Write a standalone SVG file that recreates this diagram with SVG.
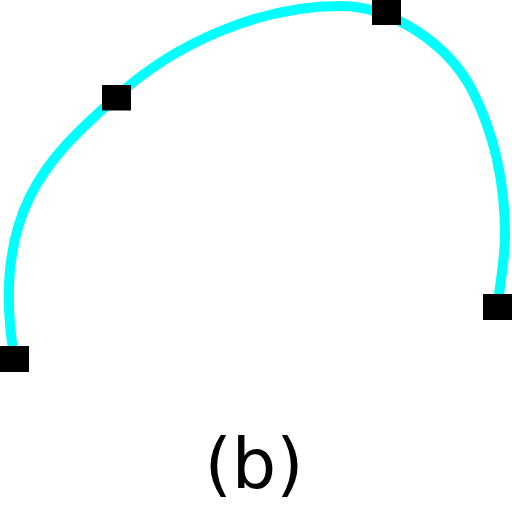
<svg xmlns="http://www.w3.org/2000/svg" width="512" height="512" viewBox="0 0 512 512">
<style>
.curve{fill:none;stroke:#00ffff;stroke-width:10;stroke-linecap:butt}
.pt{fill:#000}
.lbl{font-family:"DejaVu Sans",sans-serif;font-size:70px;fill:#000;text-anchor:middle}
</style>
<rect width="512" height="512" fill="#fff"/>
<g id="connectors">
<path class="curve" d="M14.5,359 C-12,205 57,151 116,97 C175,43 260,6 340,6 C392,6 448,44 472,90 C495,135 505,185 505,235 C505,259 500,283 497.5,307"/>
</g>
<g id="p1"><rect class="pt" x="0" y="346" width="29" height="26"/></g>
<g id="p2"><rect class="pt" x="102" y="85" width="29" height="25.5"/></g>
<g id="p3"><rect class="pt" x="372" y="-0.5" width="29" height="25.5"/></g>
<g id="p4"><rect class="pt" x="483" y="294" width="29" height="26"/></g>
<g id="label"><text class="lbl" x="254" y="488">(b)</text></g>
</svg>
